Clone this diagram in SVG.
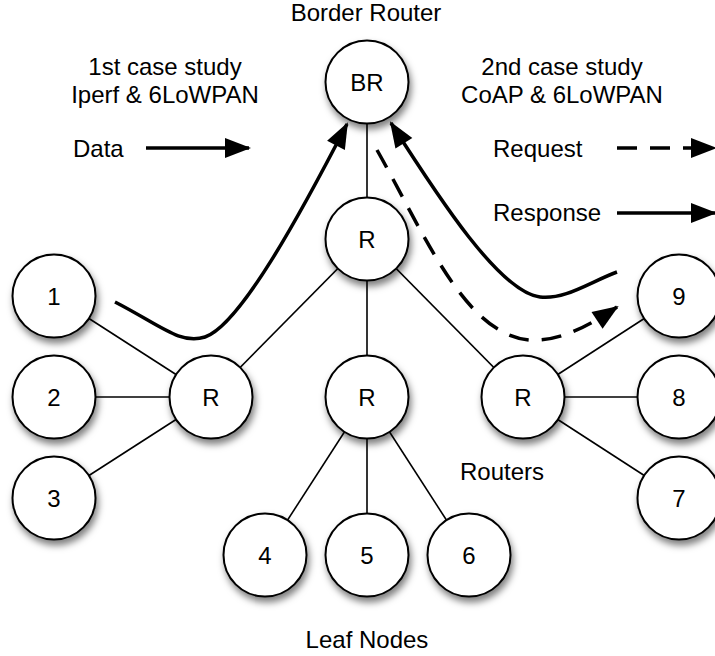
<svg xmlns="http://www.w3.org/2000/svg" width="715" height="656" viewBox="0 0 715 656">
<defs>
<style>
text{font-family:"Liberation Sans",Arial,Helvetica,sans-serif;font-size:24px;fill:#000;text-anchor:middle}
.lbl{text-anchor:start}
.node circle{fill:#fff;stroke:#000;stroke-width:2;filter:url(#sh)}
.edge{stroke:#000;stroke-width:1.6;fill:none}
.flow{stroke:#000;stroke-width:3.5;fill:none;marker-end:url(#ah)}
.dash{stroke-dasharray:20 13}
</style>
<filter id="sh" x="-30%" y="-30%" width="170%" height="170%">
<feDropShadow dx="2" dy="5" stdDeviation="3.5" flood-color="#000" flood-opacity="0.5"/>
</filter>
<marker id="ah" markerUnits="userSpaceOnUse" markerWidth="30" markerHeight="24" viewBox="0 -12 28 24" refX="24" refY="0" orient="auto">
<path d="M0,-10 L26,0 L0,10 z" fill="#000"/>
</marker>
</defs>
<rect width="715" height="656" fill="#fff"/>
<g id="connectors">
<line class="edge" x1="367" y1="82" x2="367" y2="239"/>
<line class="edge" x1="367" y1="239" x2="211" y2="397"/>
<line class="edge" x1="367" y1="239" x2="367" y2="397"/>
<line class="edge" x1="367" y1="239" x2="523" y2="397"/>
<line class="edge" x1="211" y1="397" x2="54" y2="296"/>
<line class="edge" x1="211" y1="397" x2="54" y2="397"/>
<line class="edge" x1="211" y1="397" x2="54" y2="498"/>
<line class="edge" x1="367" y1="397" x2="265" y2="555"/>
<line class="edge" x1="367" y1="397" x2="367" y2="555"/>
<line class="edge" x1="367" y1="397" x2="469" y2="555"/>
<line class="edge" x1="523" y1="397" x2="679" y2="296"/>
<line class="edge" x1="523" y1="397" x2="679" y2="397"/>
<line class="edge" x1="523" y1="397" x2="679" y2="498"/>
</g>
<g id="nodes">
<g id="n-br" class="node"><circle cx="367" cy="82" r="41.5"/><text x="367" y="90.5">BR</text></g>
<g id="n-rtop" class="node"><circle cx="367" cy="239" r="41.5"/><text x="367" y="247.5">R</text></g>
<g id="n-rleft" class="node"><circle cx="211" cy="397" r="41.5"/><text x="211" y="405.5">R</text></g>
<g id="n-rmid" class="node"><circle cx="367" cy="397" r="41.5"/><text x="367" y="405.5">R</text></g>
<g id="n-rright" class="node"><circle cx="523" cy="397" r="41.5"/><text x="523" y="405.5">R</text></g>
<g id="n1" class="node"><circle cx="54" cy="296" r="41.5"/><text x="54" y="304.5">1</text></g>
<g id="n2" class="node"><circle cx="54" cy="397" r="41.5"/><text x="54" y="405.5">2</text></g>
<g id="n3" class="node"><circle cx="54" cy="498" r="41.5"/><text x="54" y="506.5">3</text></g>
<g id="n4" class="node"><circle cx="265" cy="555" r="41.5"/><text x="265" y="563.5">4</text></g>
<g id="n5" class="node"><circle cx="367" cy="555" r="41.5"/><text x="367" y="563.5">5</text></g>
<g id="n6" class="node"><circle cx="469" cy="555" r="41.5"/><text x="469" y="563.5">6</text></g>
<g id="n9" class="node"><circle cx="679" cy="296" r="41.5"/><text x="679" y="304.5">9</text></g>
<g id="n8" class="node"><circle cx="679" cy="397" r="41.5"/><text x="679" y="405.5">8</text></g>
<g id="n7" class="node"><circle cx="679" cy="498" r="41.5"/><text x="679" y="506.5">7</text></g>
</g>
<g id="flows">
<path class="flow" d="M115,302 C160,325 180,345 205,337 C240,325 300,215 347,124"/>
<path class="flow" d="M617,272 C590,282 565,300 540,297 C500,292 440,200 391,123"/>
<path class="flow dash" stroke-width="3" d="M377,150 C425,235 465,335 530,340 C560,342 590,325 617,307"/>
<path class="flow" d="M146,148 L249,148"/>
<path class="flow dash" stroke-width="3" d="M617,148 L715,148"/>
<path class="flow" d="M617,213 L715,213"/>
</g>
<g id="labels">
<text x="366" y="21">Border Router</text>
<text x="165" y="75">1st case study</text>
<text x="165" y="103">Iperf &amp; 6LoWPAN</text>
<text x="562" y="75">2nd case study</text>
<text x="562" y="103">CoAP &amp; 6LoWPAN</text>
<text class="lbl" x="73" y="157">Data</text>
<text class="lbl" x="493" y="157">Request</text>
<text class="lbl" x="493" y="221">Response</text>
<text x="502" y="480">Routers</text>
<text x="367" y="648">Leaf Nodes</text>
</g>
</svg>
